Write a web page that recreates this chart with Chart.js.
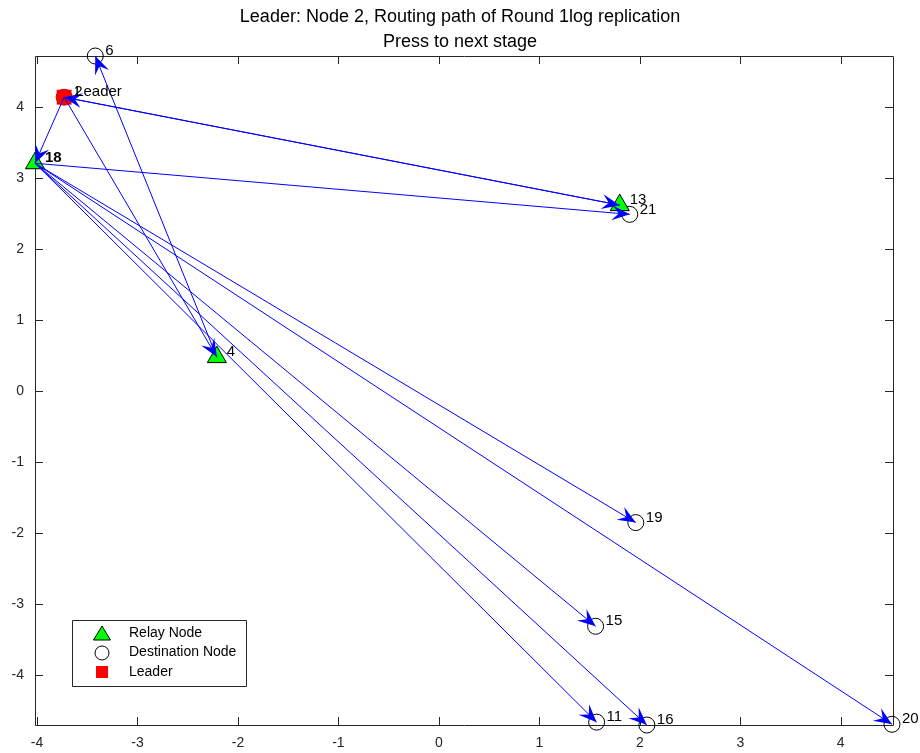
<!DOCTYPE html>
<html>
<head>
<meta charset="utf-8">
<script src="https://cdn.jsdelivr.net/npm/chart.js@4.4.0/dist/chart.umd.min.js"></script>
<style>
  html, body { margin: 0; padding: 0; background: #fff; }
  #wrap { width: 920px; height: 753px; }
</style>
</head>
<body>
<div id="wrap"><canvas id="routing-chart"></canvas></div>
<script>
// node positions
const nodeIds  = [2, 6, 18, 13, 21, 4, 19, 15, 11, 16, 20];
const nodeX    = [-3.73, -3.42, -4.02, 1.80, 1.90, -2.21, 1.96, 1.56, 1.57, 2.07, 4.51];
const nodeY    = [4.14, 4.72, 3.21, 2.62, 2.49, 0.48, -1.85, -3.31, -4.66, -4.70, -4.69];
const nodeRole = ['leader', 'dest', 'relay', 'relay', 'dest', 'relay', 'dest', 'dest', 'dest', 'dest', 'dest'];

// routing edges (from -> to)
const edgeFrom = [2, 2, 13, 2, 4, 18, 18, 18, 18, 18, 18];
const edgeTo   = [18, 13, 2, 4, 6, 21, 19, 20, 15, 11, 16];

const xTicks = [-4, -3, -2, -1, 0, 1, 2, 3, 4];
const yTicks = [-4, -3, -2, -1, 0, 1, 2, 3, 4];
const xRange = [-4.02, 4.52];
const yRange = [-4.70, 4.72];

const titleLines = ['Leader: Node 2, Routing path of Round 1log replication', 'Press to next stage'];
const legendItems = ['Relay Node', 'Destination Node', 'Leader'];

const FONT = '"Liberation Sans", Arial, Helvetica, sans-serif';
const AXIS = '#262626';
const EDGE = '#0000ff';

function nodePoint(id) {
    const i = nodeIds.indexOf(id);
    return { x: nodeX[i], y: nodeY[i] };
}

function nodesWithRole(role) {
    return nodeIds.filter((id, i) => nodeRole[i] === role).map(nodePoint);
}

const datasets = [];

edgeFrom.forEach((from, i) => {
    datasets.push({
        type: 'line',
        label: 'edge ' + from + '-' + edgeTo[i],
        data: [nodePoint(from), nodePoint(edgeTo[i])],
        borderColor: EDGE,
        backgroundColor: EDGE,
        borderWidth: 1,
        pointRadius: 0,
        fill: false,
        tension: 0,
        clip: false,
        order: 0
    });
});

datasets.push({
    label: 'Relay Node',
    data: nodesWithRole('relay'),
    showLine: false,
    pointStyle: 'triangle',
    pointRadius: 11,
    backgroundColor: '#00ff00',
    borderColor: '#000000',
    borderWidth: 1,
    clip: false,
    order: 1
});
datasets.push({
    label: 'Destination Node',
    data: nodesWithRole('dest'),
    showLine: false,
    pointStyle: 'circle',
    pointRadius: 8,
    backgroundColor: 'rgba(255,255,255,0)',
    borderColor: '#000000',
    borderWidth: 1,
    clip: false,
    order: 1
});
datasets.push({
    label: 'Leader',
    data: nodesWithRole('leader'),
    showLine: false,
    pointStyle: 'rect',
    pointRadius: 10.5,
    backgroundColor: '#ff0000',
    borderColor: '#ff0000',
    borderWidth: 0,
    clip: false,
    order: 2
});
datasets.push({
    label: 'Leader circle',
    data: nodesWithRole('leader'),
    showLine: false,
    pointStyle: 'circle',
    pointRadius: 8,
    backgroundColor: '#ff0000',
    borderColor: '#dd0000',
    borderWidth: 1,
    clip: false,
    order: 1
});

// box round the axes with inward tick marks
const axesBox = {
    id: 'axesBox',
    beforeDatasetsDraw(chart) {
        const { ctx, chartArea: a, scales } = chart;
        const len = 8;
        ctx.save();
        ctx.strokeStyle = AXIS;
        ctx.lineWidth = 1;
        ctx.beginPath();
        ctx.rect(a.left + 0.5, a.top + 0.5, a.right - a.left, a.bottom - a.top);
        xTicks.forEach(v => {
            const px = Math.round(scales.x.getPixelForValue(v)) + 0.5;
            ctx.moveTo(px, a.bottom); ctx.lineTo(px, a.bottom - len);
            ctx.moveTo(px, a.top); ctx.lineTo(px, a.top + len);
        });
        yTicks.forEach(v => {
            const py = Math.round(scales.y.getPixelForValue(v)) + 0.5;
            ctx.moveTo(a.left, py); ctx.lineTo(a.left + len, py);
            ctx.moveTo(a.right, py); ctx.lineTo(a.right - len, py);
        });
        ctx.stroke();
        ctx.beginPath();
        ctx.restore();
    }
};

// arrow heads at the end of every edge, node labels, legend box
const arrowsAndLabels = {
    id: 'arrowsAndLabels',
    afterDatasetsDraw(chart) {
        const { ctx, scales } = chart;
        chart.data.datasets.forEach((ds, i) => {
            if (ds.type !== 'line') return;
            const pts = chart.getDatasetMeta(i).data;
            const a = pts[0], b = pts[1];
            const ang = Math.atan2(b.y - a.y, b.x - a.x);
            ctx.save();
            ctx.translate(b.x, b.y);
            ctx.rotate(ang);
            ctx.beginPath();
            ctx.moveTo(0, 0);
            ctx.lineTo(-18, -7.5);
            ctx.lineTo(-11, 0);
            ctx.lineTo(-18, 7.5);
            ctx.closePath();
            ctx.fillStyle = EDGE;
            ctx.fill();
            ctx.beginPath();
            ctx.restore();
        });

        ctx.save();
        ctx.fillStyle = '#000000';
        ctx.textBaseline = 'middle';
        ctx.textAlign = 'left';
        nodeIds.forEach((id, i) => {
            const px = scales.x.getPixelForValue(nodeX[i]) + 10;
            const py = scales.y.getPixelForValue(nodeY[i]) - 5;
            ctx.font = (id === 18 ? 'bold ' : '') + '15px ' + FONT;
            ctx.fillText(String(id), px, py);
            if (nodeRole[i] === 'leader') {
                ctx.font = '15px ' + FONT;
                ctx.fillText('Leader', px + 1, py);
            }
        });
        ctx.restore();
    },
    afterDraw(chart) {
        const { ctx, chartArea: a } = chart;
        const bx = a.left + 37, by = a.bottom - 105, bw = 174, bh = 66;
        const mx = bx + 30;
        ctx.save();
        ctx.beginPath();
        ctx.rect(bx + 0.5, by + 0.5, bw, bh);
        ctx.fillStyle = '#ffffff';
        ctx.fill();
        ctx.strokeStyle = AXIS;
        ctx.lineWidth = 1;
        ctx.stroke();

        ctx.lineWidth = 1;
        ctx.strokeStyle = '#000000';
        // triangle
        let ry = by + 13;
        ctx.beginPath();
        ctx.moveTo(mx, ry - 7);
        ctx.lineTo(mx + 8.5, ry + 7);
        ctx.lineTo(mx - 8.5, ry + 7);
        ctx.closePath();
        ctx.fillStyle = '#00ff00';
        ctx.fill();
        ctx.stroke();
        // circle
        ry = by + 33;
        ctx.beginPath();
        ctx.arc(mx, ry, 7, 0, Math.PI * 2);
        ctx.fillStyle = '#ffffff';
        ctx.fill();
        ctx.stroke();
        // square
        ry = by + 52;
        ctx.beginPath();
        ctx.rect(mx - 6, ry - 6, 12, 12);
        ctx.fillStyle = '#ff0000';
        ctx.fill();
        ctx.beginPath();

        ctx.fillStyle = '#000000';
        ctx.font = '14px ' + FONT;
        ctx.textBaseline = 'middle';
        legendItems.forEach((txt, k) => {
            ctx.fillText(txt, bx + 57, by + 13 + k * 19.5);
        });
        ctx.restore();
    }
};

new Chart(document.getElementById('routing-chart'), {
    type: 'scatter',
    data: { datasets: datasets },
    options: {
        responsive: true,
        maintainAspectRatio: false,
        animation: false,
        events: [],
        layout: { padding: 0 },
        plugins: {
            legend: { display: false },
            tooltip: { enabled: false },
            title: {
                display: true,
                text: titleLines,
                color: '#000000',
                font: { family: FONT, size: 18, weight: 'normal', lineHeight: 1.39 },
                padding: { top: 5, bottom: 0.96 }
            }
        },
        scales: {
            x: {
                type: 'linear',
                min: xRange[0],
                max: xRange[1],
                afterFit(scale) { scale.height = 28; },
                afterBuildTicks(scale) { scale.ticks = xTicks.map(v => ({ value: v })); },
                grid: { display: false, drawTicks: false },
                border: { display: false },
                ticks: { padding: 10, color: AXIS, autoSkip: false, maxRotation: 0, font: { family: FONT, size: 14 } }
            },
            y: {
                type: 'linear',
                min: yRange[0],
                max: yRange[1],
                afterFit(scale) { scale.width = 35; },
                afterBuildTicks(scale) { scale.ticks = yTicks.map(v => ({ value: v })); },
                grid: { display: false, drawTicks: false },
                border: { display: false },
                ticks: { padding: 11, color: AXIS, autoSkip: false, font: { family: FONT, size: 14 } }
            },
            yRight: {
                type: 'linear',
                position: 'right',
                min: yRange[0],
                max: yRange[1],
                afterFit(scale) { scale.width = 27; },
                grid: { display: false, drawTicks: false },
                border: { display: false },
                ticks: { display: false }
            }
        }
    },
    plugins: [axesBox, arrowsAndLabels]
});
</script>
</body>
</html>
